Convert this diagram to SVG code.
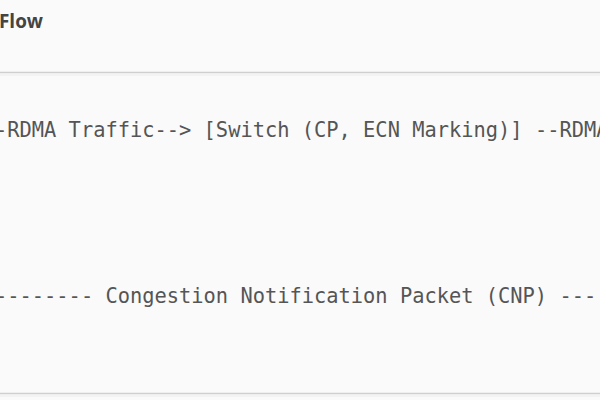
<svg xmlns="http://www.w3.org/2000/svg" width="600" height="400" viewBox="0 0 600 400">
<style>
.title{font-family:"Open Sans","Liberation Sans",sans-serif;font-weight:bold;font-size:19px;fill:#444}
.code{font-family:"DejaVu Sans Mono","Liberation Mono",monospace;font-size:20.4px;fill:#555;white-space:pre}
.rule{stroke:#cfcfcf;stroke-width:1.5}
.rule2{stroke:#ececec;stroke-width:1}
</style>
<rect x="0" y="0" width="600" height="400" fill="#fafafa"/>
<g id="header">
<text class="title" x="-1" y="27.5" textLength="44" lengthAdjust="spacingAndGlyphs">Flow</text>
</g>
<line class="rule" x1="0" y1="72.5" x2="600" y2="72.5"/>
<line class="rule2" x1="0" y1="75" x2="600" y2="75"/>
<g id="traffic-line">
<text class="code" x="-5" y="137" textLength="613.5" lengthAdjust="spacingAndGlyphs" xml:space="preserve">-RDMA Traffic--&gt; [Switch (CP, ECN Marking)] --RDMA</text>
</g>
<g id="cnp-line">
<text class="code" x="-5" y="303" textLength="601.2" lengthAdjust="spacingAndGlyphs" xml:space="preserve">-------- Congestion Notification Packet (CNP) ---</text>
</g>
<line class="rule" x1="0" y1="393.5" x2="600" y2="393.5"/>
<line class="rule2" x1="0" y1="396" x2="600" y2="396"/>
</svg>
